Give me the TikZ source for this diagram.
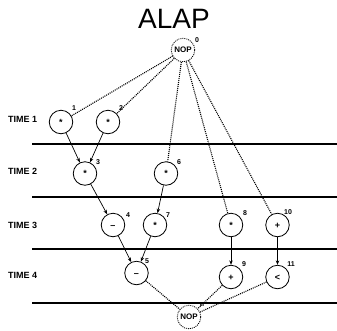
\documentclass[tikz,border=0pt]{standalone}
\usepackage{fontspec}
\setmainfont{Liberation Sans}
\usetikzlibrary{arrows.meta}
\begin{document}
\begin{tikzpicture}[x=1pt,y=-1pt,
  op/.style={circle,draw,line width=0.8pt,minimum size=23.5pt,inner sep=0pt,
    text height=6.5pt,text depth=0pt,font=\fontsize{9}{9}\selectfont\bfseries},
  nop/.style={op,dash pattern=on 1pt off 1pt,font=\fontsize{8}{8}\selectfont\bfseries,text height=5.8pt},
  num/.style={font=\fontsize{7}{7}\selectfont\bfseries,inner sep=0pt},
  timelbl/.style={font=\fontsize{9}{9}\selectfont\bfseries,anchor=west,inner sep=0pt},
  dep/.style={-{Stealth[length=4.5pt,width=3.5pt]},line width=0.7pt},
  sched/.style={dash pattern=on 1pt off 1pt,line width=1.1pt},
  border/.style={line width=1.4pt}]

\useasboundingbox (0,0) rectangle (337,330);

% title
\node[font=\fontsize{28}{28}\selectfont,inner sep=0pt] (title) at (174,18.5) {ALAP};

% time-step boundaries
\draw[border] (32,144) -- (337,144);
\draw[border] (32,197) -- (337,197);
\draw[border] (32,249) -- (337,249);
\draw[border] (32,303) -- (337,303);

% time-step labels
\node[timelbl] (t1) at (8,119) {TIME 1};
\node[timelbl] (t2) at (8,171) {TIME 2};
\node[timelbl] (t3) at (8,225) {TIME 3};
\node[timelbl] (t4) at (8,275) {TIME 4};

% operations
\node[nop] (n0) at (183,50) {NOP};
\node[op] (n1) at (61,122) {*};
\node[op] (n2) at (108,122) {*};
\node[op] (n3) at (85,173.5) {*};
\node[op] (n6) at (166,173.5) {*};
\node[op] (n4) at (113,225) {--};
\node[op] (n7) at (155,225) {*};
\node[op] (n8) at (231,225) {*};
\node[op] (n10) at (277.5,225) {+};
\node[op] (n5) at (136.5,273) {--};
\node[op] (n9) at (231,277) {+};
\node[op] (n11) at (277.5,277) {<};
\node[nop] (nn) at (189,317) {NOP};

% operation numbers
\node[num] (l0) at (197,40) {0};
\node[num] (l1) at (74,108) {1};
\node[num] (l2) at (121,108) {2};
\node[num] (l3) at (98,162) {3};
\node[num] (l6) at (179,162) {6};
\node[num] (l4) at (128,215) {4};
\node[num] (l7) at (168,215) {7};
\node[num] (l8) at (245,213) {8};
\node[num] (l10) at (288,212) {10};
\node[num] (l5) at (147,261) {5};
\node[num] (l9) at (244,264) {9};
\node[num] (l11) at (291,264) {11};
\node[num] (ln) at (202,305) {n};

% source edges
\foreach \t in {n1,n2,n6,n8,n10} \draw[sched] (n0) -- (\t);
% data dependencies
\draw[dep] (n1) -- (n3);
\draw[dep] (n2) -- (n3);
\draw[dep] (n3) -- (n4);
\draw[dep] (n6) -- (n7);
\draw[dep] (n4) -- (n5);
\draw[dep] (n7) -- (n5);
\draw[dep] (n8) -- (n9);
\draw[dep] (n10) -- (n11);
% sink edges
\foreach \s in {n5,n9,n11} \draw[sched] (\s) -- (nn);
\end{tikzpicture}
\end{document}
